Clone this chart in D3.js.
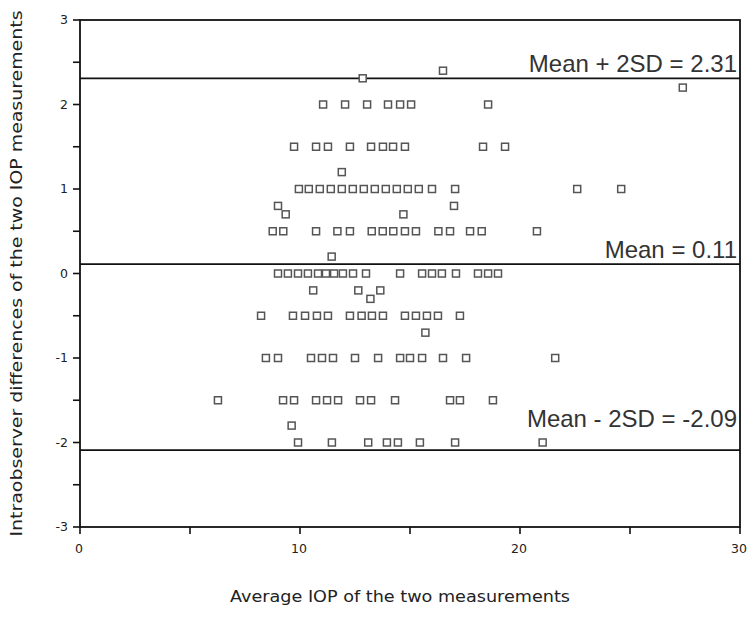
<!DOCTYPE html>
<html>
<head>
<meta charset="utf-8">
<script src="https://cdn.jsdelivr.net/npm/d3@7"></script>
<style>
  body { margin: 0; background: #fff; }
  svg { display: block; }
</style>
</head>
<body>
<svg id="chart" width="755" height="617"></svg>
<script>
// Difference rows (y) and the averages (x) found on each row
const diffLevels = [2.4, 2.31, 2.2, 2.0, 1.5, 1.2, 1.0, 0.8, 0.7, 0.5, 0.2, 0.0, -0.2, -0.3, -0.5, -0.7, -1.0, -1.5, -1.8, -2.0];
const avgByLevel = [
  [16.5],
  [12.85],
  [27.4],
  [11.05, 12.05, 13.05, 14.0, 14.55, 15.05, 18.55],
  [9.73, 10.73, 11.27, 12.27, 13.23, 13.77, 14.23, 14.77, 18.32, 19.32],
  [11.9],
  [9.95, 10.4, 10.9, 11.4, 11.9, 12.4, 12.9, 13.4, 13.9, 14.4, 14.9, 15.4, 16.0, 17.05, 22.6, 24.6],
  [9.0, 17.0],
  [9.35, 14.7],
  [8.76, 9.24, 10.73, 11.7, 12.27, 13.26, 13.76, 14.24, 14.77, 15.27, 16.29, 16.82, 17.73, 18.26, 20.77],
  [11.44],
  [9.0, 9.45, 9.91, 10.36, 10.82, 11.18, 11.55, 11.95, 12.41, 13.0, 14.55, 15.55, 16.0, 16.45, 17.09, 18.09, 18.55, 19.0],
  [10.6, 12.65, 13.65],
  [13.2],
  [8.23, 9.68, 10.23, 10.77, 11.27, 12.27, 12.8, 13.27, 13.77, 14.77, 15.27, 15.77, 16.27, 17.27],
  [15.7],
  [8.45, 9.0, 10.5, 11.0, 11.5, 12.5, 13.55, 14.55, 15.0, 15.55, 16.5, 17.55, 21.6],
  [6.27, 9.23, 9.73, 10.73, 11.23, 11.73, 12.73, 13.23, 14.32, 16.82, 17.27, 18.77],
  [9.62],
  [9.91, 11.45, 13.1, 13.95, 14.45, 15.45, 17.05, 21.03]
];

// Limits of agreement
const refValues = [2.31, 0.11, -2.09];
const refLabels = ["Mean + 2SD = 2.31", "Mean = 0.11", "Mean - 2SD = -2.09"];

const xTicks = [0, 10, 20, 30];
const xMinorTicks = [0, 5, 10, 15, 20, 25, 30];
const yTicks = [-3, -2, -1, 0, 1, 2, 3];
const yMinorTicks = d3.range(-3, 3.01, 0.5);

const points = [];
diffLevels.forEach((diff, i) => {
  avgByLevel[i].forEach((avg) => points.push({ avg, diff }));
});

const svg = d3.select("#chart");
const plot = { left: 80, right: 740, top: 20, bottom: 527 };

const x = d3.scaleLinear().domain([0, 30]).range([plot.left, plot.right]);
const y = d3.scaleLinear().domain([-3, 3]).range([plot.bottom, plot.top]);

const tickFont = "'DejaVu Sans', Verdana, sans-serif";

// Frame
svg.append("rect")
  .attr("x", plot.left).attr("y", plot.top)
  .attr("width", plot.right - plot.left).attr("height", plot.bottom - plot.top)
  .attr("fill", "none").attr("stroke", "#111").attr("stroke-width", 1.8);

// x axis ticks
svg.append("g")
  .selectAll("line")
  .data(xMinorTicks)
  .join("line")
  .attr("x1", (d) => x(d)).attr("x2", (d) => x(d))
  .attr("y1", plot.bottom).attr("y2", plot.bottom + 7)
  .attr("stroke", "#111").attr("stroke-width", 1.6);

svg.append("g")
  .selectAll("text")
  .data(xTicks)
  .join("text")
  .attr("x", (d) => x(d) - 1)
  .attr("y", plot.bottom + 26)
  .attr("text-anchor", "middle")
  .style("font-family", tickFont)
  .style("font-size", "12.5px")
  .attr("fill", "#222")
  .text((d) => d);

// y axis ticks
svg.append("g")
  .selectAll("line")
  .data(yMinorTicks)
  .join("line")
  .attr("x1", plot.left - 7).attr("x2", plot.left)
  .attr("y1", (d) => y(d)).attr("y2", (d) => y(d))
  .attr("stroke", "#111").attr("stroke-width", 1.6);

svg.append("g")
  .selectAll("text")
  .data(yTicks)
  .join("text")
  .attr("x", plot.left - 12)
  .attr("y", (d) => y(d) + 4)
  .attr("text-anchor", "end")
  .style("font-family", tickFont)
  .style("font-size", "12.5px")
  .attr("fill", "#222")
  .text((d) => d);

// Reference lines with labels
svg.append("g")
  .selectAll("line")
  .data(refValues)
  .join("line")
  .attr("x1", plot.left).attr("x2", plot.right)
  .attr("y1", (d) => y(d)).attr("y2", (d) => y(d))
  .attr("stroke", "#111").attr("stroke-width", 1.8);

svg.append("g")
  .selectAll("text")
  .data(refValues)
  .join("text")
  .attr("x", plot.right - 3)
  .attr("y", (d, i) => y(d) - (i === 2 ? 23 : 6))
  .attr("text-anchor", "end")
  .style("font-family", "'Liberation Sans', Arial, sans-serif")
  .style("font-size", "24px")
  .attr("fill", "#333")
  .text((d, i) => refLabels[i]);

// Points
svg.append("g")
  .selectAll("rect")
  .data(points)
  .join("rect")
  .attr("x", (d) => x(d.avg) - 3.5)
  .attr("y", (d) => y(d.diff) - 3.5)
  .attr("width", 7).attr("height", 7)
  .attr("fill", "#fff")
  .attr("stroke", "#555")
  .attr("stroke-width", 1.5);

// Axis titles
svg.append("text")
  .attr("x", 400).attr("y", 602)
  .attr("text-anchor", "middle")
  .style("font-family", tickFont)
  .style("font-size", "16px")
  .attr("textLength", 340).attr("lengthAdjust", "spacingAndGlyphs")
  .attr("fill", "#222")
  .text("Average IOP of the two measurements");

svg.append("text")
  .attr("transform", `translate(22,${(plot.top + plot.bottom) / 2}) rotate(-90)`)
  .attr("text-anchor", "middle")
  .style("font-family", tickFont)
  .style("font-size", "16px")
  .attr("textLength", 526).attr("lengthAdjust", "spacingAndGlyphs")
  .attr("fill", "#222")
  .text("Intraobserver differences of the two IOP measurements");
</script>
</body>
</html>
